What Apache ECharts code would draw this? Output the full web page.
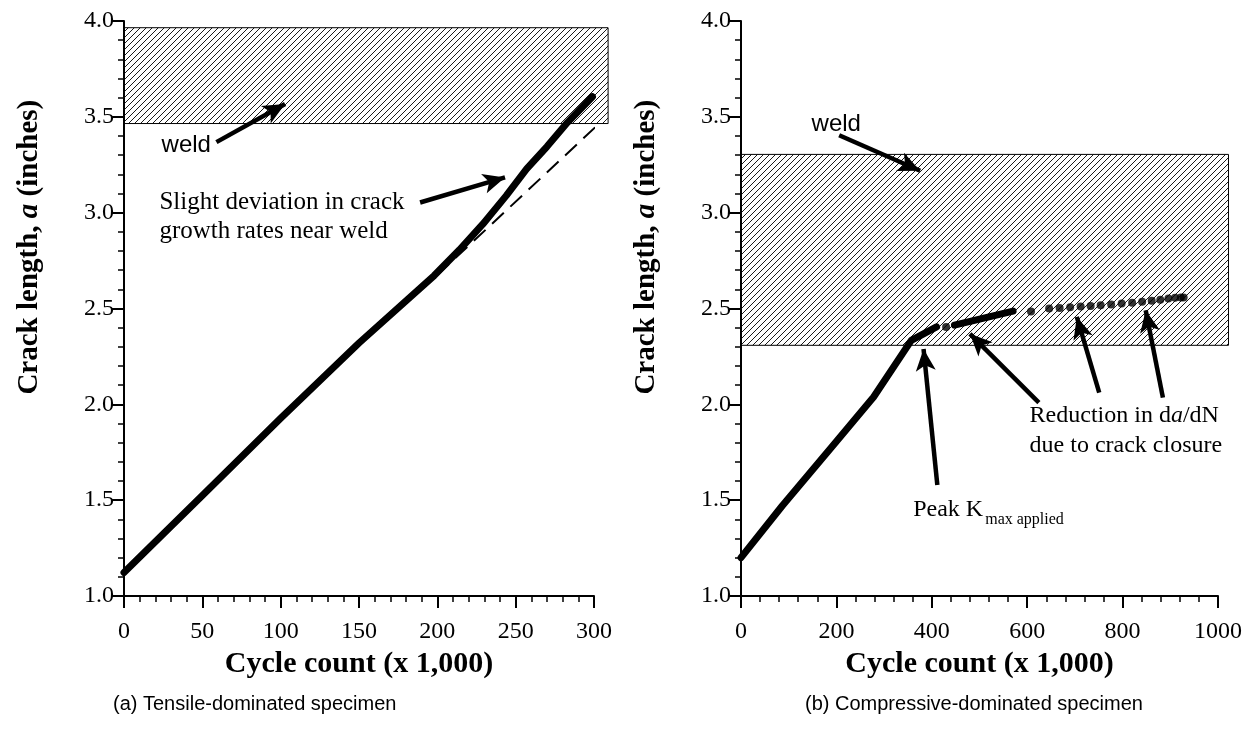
<!DOCTYPE html>
<html><head><meta charset="utf-8">
<script src="https://cdn.jsdelivr.net/npm/echarts@6/dist/echarts.min.js"></script>
<style>html,body{margin:0;padding:0;background:#fff}#c{width:1260px;height:753px}</style>
</head><body><div id="c"></div>
<script>
// ---------- data ----------
const leftCycles = [0, 50, 100, 150, 198, 214, 229, 244, 257, 270, 283, 299];
const leftCrack  = [1.122, 1.524, 1.927, 2.320, 2.672, 2.805, 2.940, 3.089, 3.228, 3.345, 3.470, 3.605];
const leftTrendCycles = [200, 302];
const leftTrendCrack  = [2.675, 3.455];
const leftWeldBox = [0, 3.465, 309, 3.965];          // x0, y0, x1, y1

const rightLineCycles = [0, 86.6, 198.6, 278, 357, 410];
const rightLineCrack  = [1.200, 1.471, 1.802, 2.038, 2.334, 2.404];
const rightSegCycles  = [447.6, 570.4];
const rightSegCrack   = [2.413, 2.486];
const rightDotCycles  = [430, 608, 646, 668, 690, 712, 733, 754, 776, 798, 820, 841, 861, 879, 896, 910, 922, 928];
const rightDotCrack   = [2.404, 2.485, 2.500, 2.503, 2.507, 2.510, 2.513, 2.517, 2.521, 2.526, 2.530, 2.535, 2.541, 2.546, 2.552, 2.556, 2.558, 2.558];
const rightWeldBox = [0, 2.308, 1022, 3.304];

const yTickValues = [1.0, 1.5, 2.0, 2.5, 3.0, 3.5, 4.0];
const leftXTicks  = [0, 50, 100, 150, 200, 250, 300];
const rightXTicks = [0, 200, 400, 600, 800, 1000];

// annotation arrows (tail -> head) in data units
const leftWeldArrow  = [[59, 3.368], [102.8, 3.567]];
const leftDevArrow   = [[189, 3.053], [243.2, 3.184]];
const rightWeldArrow = [[205.8, 3.404], [375.5, 3.219]];
const peakArrow      = [[411.6, 1.579], [382.7, 2.289]];
const closureArrows  = [
  [[624.5, 2.009], [480, 2.368]],
  [[751, 2.061], [704, 2.456]],
  [[884.5, 2.035], [848.4, 2.491]]
];

// ---------- helpers ----------
const zip = (a, b) => a.map((v, i) => [v, b[i]]);
function hatchCanvas() {
  const c = document.createElement('canvas');
  c.width = 6; c.height = 6;
  const g = c.getContext('2d');
  g.strokeStyle = '#000'; g.lineWidth = 0.9;
  g.beginPath();
  g.moveTo(-1, 7); g.lineTo(7, -1);
  g.moveTo(-1, 1); g.lineTo(1, -1);
  g.moveTo(5, 7); g.lineTo(7, 5);
  g.stroke();
  return c;
}
const hatch = { image: hatchCanvas(), repeat: 'repeat' };

const SERIF = 'Liberation Serif';
const SANS = 'Liberation Sans';

function xAxis(grid, max, interval) {
  return {
    type: 'value', gridIndex: grid, min: 0, max: max, interval: interval,
    axisLine: { onZero: false, lineStyle: { color: '#000', width: 2 } },
    axisTick: { inside: false, length: 12, lineStyle: { color: '#000', width: 2 } },
    minorTick: { show: true, splitNumber: 5, length: 6, lineStyle: { color: '#000', width: 1.5 } },
    splitLine: { show: false },
    axisLabel: { color: '#000', fontFamily: SERIF, fontSize: 24, margin: 24, formatter: v => String(v) },
    name: 'Cycle count (x 1,000)', nameLocation: 'middle', nameGap: 52,
    nameTextStyle: { color: '#000', fontFamily: SERIF, fontSize: 30, fontWeight: 'bold' }
  };
}
function yAxis(grid) {
  return {
    type: 'value', gridIndex: grid, min: 1, max: 4, interval: 0.5,
    axisLine: { onZero: false, lineStyle: { color: '#000', width: 2 } },
    axisTick: { inside: false, length: 12, lineStyle: { color: '#000', width: 2 } },
    minorTick: { show: true, splitNumber: 5, length: 6, lineStyle: { color: '#000', width: 1.5 } },
    splitLine: { show: false },
    axisLabel: { color: '#000', fontFamily: SERIF, fontSize: 24, margin: 10,
                 formatter: v => v.toFixed(1) }
  };
}
function weldSeries(grid, box) {
  return {
    type: 'custom', xAxisIndex: grid, yAxisIndex: grid, z: 1, clip: false, silent: true,
    data: [box],
    renderItem: (params, api) => {
      const p0 = api.coord([api.value(0), api.value(1)]);
      const p1 = api.coord([api.value(2), api.value(3)]);
      return { type: 'rect',
        shape: { x: p0[0], y: p1[1], width: p1[0] - p0[0], height: p0[1] - p1[1] },
        style: { fill: hatch, stroke: '#000', lineWidth: 1 } };
    }
  };
}
function arrows(list) {
  return {
    silent: true, animation: false,
    symbol: ['none', 'arrow'], symbolSize: [15, 22],
    label: { show: false },
    lineStyle: { color: '#000', width: 4.5, type: 'solid' },
    emphasis: { disabled: true },
    data: list.map(a => [{ coord: a[0] }, { coord: a[1] }])
  };
}
function dummy(grid, list) {
  return { type: 'line', xAxisIndex: grid, yAxisIndex: grid, data: [], symbol: 'none', z: 6,
           markLine: arrows(list) };
}

const chart = echarts.init(document.getElementById('c'), null, { renderer: 'canvas' });
chart.setOption({
  animation: false,
  backgroundColor: '#fff',
  grid: [
    { left: 124, top: 21, width: 470, height: 575 },
    { left: 741, top: 21, width: 477, height: 575 }
  ],
  xAxis: [xAxis(0, 300, 50), xAxis(1, 1000, 200)],
  yAxis: [yAxis(0), yAxis(1)],
  series: [
    weldSeries(0, leftWeldBox),
    weldSeries(1, rightWeldBox),
    { type: 'line', xAxisIndex: 0, yAxisIndex: 0, data: zip(leftTrendCycles, leftTrendCrack),
      symbol: 'none', z: 3, lineStyle: { color: '#000', width: 2, type: [16, 9] } },
    { type: 'line', xAxisIndex: 0, yAxisIndex: 0, data: zip(leftCycles, leftCrack),
      symbol: 'none', z: 4, lineStyle: { color: '#000', width: 7, cap: 'round', join: 'round' } },
    { type: 'line', xAxisIndex: 1, yAxisIndex: 1, data: zip(rightLineCycles, rightLineCrack),
      symbol: 'none', z: 4, lineStyle: { color: '#000', width: 7, cap: 'round', join: 'round' } },
    { type: 'line', xAxisIndex: 1, yAxisIndex: 1, data: zip(rightSegCycles, rightSegCrack),
      symbol: 'none', z: 4, lineStyle: { color: '#000', width: 7, cap: 'round', join: 'round' } },
    { type: 'scatter', xAxisIndex: 1, yAxisIndex: 1, data: zip(rightDotCycles, rightDotCrack),
      symbol: 'circle', symbolSize: 8, z: 4, itemStyle: { color: '#000' } },
    dummy(0, [leftWeldArrow, leftDevArrow]),
    dummy(1, [rightWeldArrow, peakArrow].concat(closureArrows))
  ]
});

// ---------- text annotations placed through the axes ----------
function px(grid, pt) { return chart.convertToPixel({ gridIndex: grid }, pt); }
function txt(grid, pt, text, font, size, extra) {
  const p = px(grid, pt);
  return { type: 'text', x: p[0], y: p[1], silent: true, z: 10,
    style: Object.assign({ text: text, fill: '#000', font: size + 'px "' + font + '"',
      textAlign: 'left', textVerticalAlign: 'middle' }, extra || {}) };
}
function yTitle(grid) {
  const p = px(grid, [0, 2.82]);
  return { type: 'text', x: p[0] - 94, y: p[1], rotation: Math.PI / 2, silent: true, z: 10,
    style: { text: 'Crack length, {i|a} (inches)', fill: '#000', font: 'bold 29px "Liberation Serif"',
      textAlign: 'center', textVerticalAlign: 'middle',
      rich: { i: { fontFamily: SERIF, fontSize: 29, fontWeight: 'bold', fontStyle: 'italic', fill: '#000' } } } };
}
const italicRich = { i: { fontFamily: SERIF, fontSize: 24, fontStyle: 'italic', fill: '#000' } };
const peakPt = px(1, [361, 1.45]);
chart.setOption({
  graphic: [
    yTitle(0), yTitle(1),
    txt(0, [24, 3.35], 'weld', SANS, 24),
    txt(0, [22.6, 3.055], 'Slight deviation in crack', SERIF, 25),
    txt(0, [22.6, 2.9], 'growth rates near weld', SERIF, 25),
    txt(1, [148, 3.46], 'weld', SANS, 24),
    txt(1, [361, 1.45], 'Peak K', SERIF, 24),
    { type: 'text', x: peakPt[0] + 72, y: peakPt[1] + 10, silent: true, z: 10,
      style: { text: 'max applied', fill: '#000', font: '16px "Liberation Serif"', textAlign: 'left', textVerticalAlign: 'middle' } },
    txt(1, [605, 1.94], 'Reduction in d{i|a}/dN', SERIF, 24, { rich: italicRich }),
    txt(1, [605, 1.785], 'due to crack closure', SERIF, 24),
    { type: 'text', left: 113, top: 694, silent: true,
      style: { text: '(a) Tensile-dominated specimen', fill: '#000', font: '20px "Liberation Sans"' } },
    { type: 'text', left: 805, top: 694, silent: true,
      style: { text: '(b) Compressive-dominated specimen', fill: '#000', font: '20px "Liberation Sans"' } }
  ]
});
</script>
</body></html>
